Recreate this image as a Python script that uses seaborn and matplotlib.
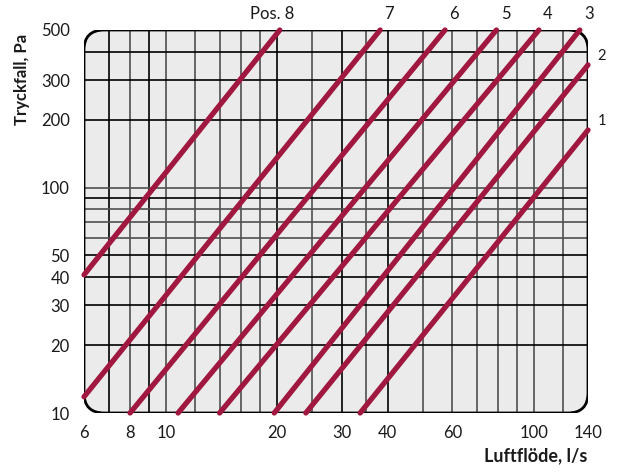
import pandas as pd
import seaborn as sns
import matplotlib.pyplot as plt
from matplotlib.patches import FancyBboxPatch

sns.set_style('white')
plt.rcParams['font.family'] = ['Lato', 'DejaVu Sans']

# Kurvor (raka linjer i log-log), start- och slutpunkt per position
positioner = ['8', '7', '6', '5', '4', '3', '2', '1']
flode_start = [6, 6, 8.0, 10.8, 14.0, 19.7, 24, 33.7]
tryck_start = [41, 11.8, 10, 10, 10, 10, 10, 10]
flode_slut = [20.4, 38.2, 57.3, 79, 103, 133, 140, 140]
tryck_slut = [500, 500, 500, 500, 500, 500, 350, 180]

# rutnät och skalor
x_grid = [7, 8, 9, 10, 12, 14, 16, 18, 20, 25, 30, 35, 40, 50, 60, 70, 80, 90, 100, 120]
x_grid_svart = [7, 9, 20, 30, 40]
y_grid = [20, 30, 40, 50, 60, 70, 80, 90, 100, 200, 300, 400]
y_grid_svart = [20, 30, 40, 50, 90, 200, 300, 400]
x_etiketter = [6, 8, 10, 20, 30, 40, 60, 100, 140]
x_utan_streck = [6, 8, 10, 20, 60, 140]
x_streck = [7, 9, 50, 70, 80, 90, 120]
y_etiketter = [10, 20, 30, 40, 50, 100, 200, 300, 500]
y_streck = [60, 70, 80, 90, 400]

rader = []
for p, x0, y0, x1, y1 in zip(positioner, flode_start, tryck_start, flode_slut, tryck_slut):
    rader.append({'pos': p, 'flode': x0, 'tryck': y0, 'ordning': 0})
    rader.append({'pos': p, 'flode': x1, 'tryck': y1, 'ordning': 1})
df = pd.DataFrame(rader)

fig = plt.figure(figsize=(6.18, 4.73), dpi=100)
ax = fig.add_axes([84 / 618, 1 - 413 / 473, 504 / 618, 383 / 473])
ax.set_xscale('log')
ax.set_yscale('log')
ax.set_xlim(6, 140)
ax.set_ylim(10, 500)
ax.patch.set_visible(False)
for s in ax.spines.values():
    s.set_visible(False)

# rundad ruta
bakgrund = FancyBboxPatch((0, 0), 1, 1, boxstyle='round,pad=0,rounding_size=0.04',
                          mutation_aspect=504 / 383, transform=ax.transAxes,
                          facecolor='#ebebeb', edgecolor='none', zorder=0)
ax.add_patch(bakgrund)
ram = FancyBboxPatch((0, 0), 1, 1, boxstyle='round,pad=0,rounding_size=0.04',
                     mutation_aspect=504 / 383, transform=ax.transAxes,
                     facecolor='none', edgecolor='black', linewidth=2, zorder=3)
ax.add_patch(ram)

for v in x_grid:
    farg = 'black' if v in x_grid_svart else '#505050'
    l = ax.axvline(v, color=farg, linewidth=1.2, zorder=1)
    l.set_clip_path(bakgrund)
for v in y_grid:
    farg = 'black' if v in y_grid_svart else '#505050'
    l = ax.axhline(v, color=farg, linewidth=1.2, zorder=1)
    l.set_clip_path(bakgrund)

sns.lineplot(data=df, x='flode', y='tryck', units='pos', estimator=None, sort=False,
             color='#a0173f', linewidth=3.8, solid_capstyle='round', clip_on=False,
             zorder=4, ax=ax, legend=False)

# axlar
ax.set_xticks(x_etiketter)
ax.set_xticklabels([str(v) for v in x_etiketter])
ax.set_xticks(x_streck, minor=True)
ax.set_xticklabels([], minor=True)
ax.set_yticks(y_etiketter)
ax.set_yticklabels([str(v) for v in y_etiketter])
ax.set_yticks(y_streck, minor=True)
ax.set_yticklabels([], minor=True)
ax.tick_params(axis='x', which='both', direction='out', length=5.8, width=1, pad=3,
               labelsize=12, colors='black', labelcolor='#1a1a1a')
ax.tick_params(axis='y', which='both', direction='out', length=7.2, width=1, pad=3,
               labelsize=12, colors='black', labelcolor='#1a1a1a')
for t, v in zip(ax.xaxis.get_major_ticks(), x_etiketter):
    if v in x_utan_streck:
        t.tick1line.set_visible(False)
for t, v in zip(ax.yaxis.get_major_ticks(), y_etiketter):
    if v in (10, 500):
        t.tick1line.set_visible(False)
ax.set_xlabel('')
ax.set_ylabel('')

# etiketter vid kurvorna
for p, x1, y1 in zip(positioner, flode_slut, tryck_slut):
    if p == '8':
        ax.annotate('Pos. 8', (x1, y1), xytext=(15, 16), textcoords='offset pixels',
                    ha='right', va='center', fontsize=12, color='#1a1a1a')
    elif y1 >= 500:
        ax.annotate(p, (x1, y1), xytext=(9, 16), textcoords='offset pixels',
                    ha='center', va='center', fontsize=12, color='#1a1a1a')
    else:
        ax.annotate(p, (x1, y1), xytext=(14, 9), textcoords='offset pixels',
                    ha='center', va='center', fontsize=10.5, color='#1a1a1a')

fig.text(22 / 618, 1 - 79 / 473, 'Tryckfall, Pa', rotation=90, ha='center', va='center',
         fontsize=12, fontweight='bold', color='#1a1a1a')
fig.text(587 / 618, 1 - 456 / 473, 'Luftflöde, l/s', ha='right', va='center',
         fontsize=13, fontweight='bold', color='#1a1a1a')

fig.savefig('out.png', dpi=100)
